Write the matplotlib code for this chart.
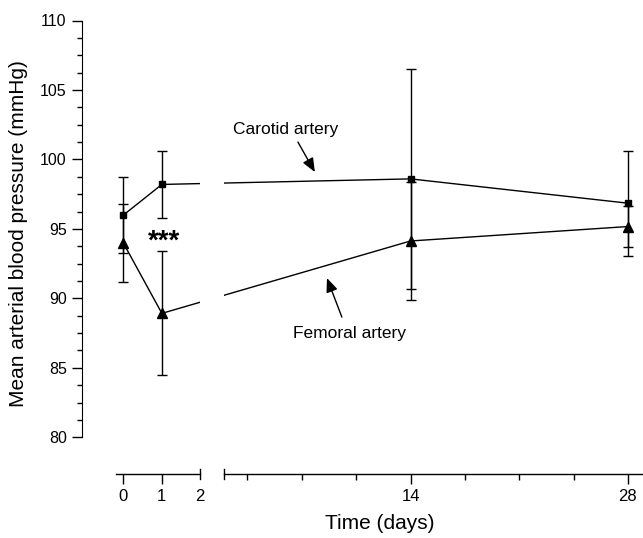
import numpy as np
import matplotlib
matplotlib.use('Agg')
import matplotlib.pyplot as plt
from matplotlib.ticker import MultipleLocator

plt.rcParams['font.family'] = ['Liberation Sans', 'DejaVu Sans']

# data
days = [0, 1, 14, 28]
carotid = [96.0, 98.2, 98.6, 96.85]
carotid_err = [2.73, 2.41, 7.92, 3.77]
femoral = [93.97, 88.92, 94.13, 95.17]
femoral_err = [2.8, 4.46, 4.26, 1.48]

x_major = [0, 1, 2, 14, 28]
x_minor = [3.5, 7, 10.5, 17.5, 21, 24.5]
y_major = [80, 85, 90, 95, 100, 105, 110]

# broken x axis: 0-2 stretched, then a gap, then 2-28 compressed
knots_d = [-10, 2, 2.001, 60]
knots_u = [-384.0, 76.8, 100.7, 100.7 + (60 - 2.001) * 15.53]
def fwd(d):
    return np.interp(d, knots_d, knots_u)
def inv(u):
    return np.interp(u, knots_u, knots_d)

fig = plt.figure(figsize=(6.43, 5.38), dpi=100)
ax = fig.add_axes([82/643, 100.7/538, 561/643, 416.8/538])
ax.set_xscale('function', functions=(fwd, inv))
ax.set_xlim(-1.08, 28.97)
ax.set_ylim(80, 110)

ax.errorbar(days, carotid, yerr=carotid_err, color='black', marker='s', ms=4.2,
            lw=1, elinewidth=1, capsize=3.3, capthick=1)
ax.errorbar(days, femoral, yerr=femoral_err, color='black', marker='^', ms=6.5,
            lw=1, elinewidth=1, capsize=3.3, capthick=1)
# cut the lines where the axis is broken
ax.axvspan(2, 2.001, color='white', lw=0, zorder=5)

# significance mark
ax.text(1.05, 94.1, '***', ha='center', va='center', fontsize=20, fontweight='bold')

# labels with arrows
ax.text(2.56, 102.19, 'Carotid artery', ha='left', va='center', fontsize=12.5)
ax.annotate('', xy=(7.84, 99.09), xytext=(6.75, 101.25),
            arrowprops=dict(arrowstyle='-|>,head_length=0.6,head_width=0.25',
                            color='black', lw=1, mutation_scale=14, shrinkA=0, shrinkB=0))
ax.text(6.43, 87.5, 'Femoral artery', ha='left', va='center', fontsize=12.5)
ax.annotate('', xy=(8.62, 91.46), xytext=(9.58, 88.65),
            arrowprops=dict(arrowstyle='-|>,head_length=0.6,head_width=0.25',
                            color='black', lw=1, mutation_scale=14, shrinkA=0, shrinkB=0))

# spines
ybar = -37 / 416.8
ax.spines['top'].set_visible(False)
ax.spines['right'].set_visible(False)
ax.spines['left'].set_bounds(80, 110)
ax.spines['bottom'].set_position(('axes', ybar))
ax.spines['bottom'].set_visible(False)

trans = ax.get_xaxis_transform()
cap = 5 / 416.8
ax.plot([-0.2, 2], [ybar, ybar], color='black', lw=1, transform=trans, clip_on=False)
ax.plot([2.001, 28.97], [ybar, ybar], color='black', lw=1, transform=trans, clip_on=False)
for xc in [2, 2.001]:
    ax.plot([xc, xc], [ybar - cap, ybar + cap], color='black', lw=1,
            transform=trans, clip_on=False)

# ticks
ax.set_yticks(y_major)
ax.yaxis.set_minor_locator(MultipleLocator(1.25))
ax.set_xticks(x_major)
ax.set_xticklabels([str(d) for d in x_major])
ax.set_xticks(x_minor, minor=True)
ax.tick_params(axis='y', which='major', direction='out', length=7, width=1, labelsize=11.5, pad=4)
ax.tick_params(axis='y', which='minor', direction='out', length=3.6, width=1)
ax.tick_params(axis='x', which='major', direction='out', length=7.5, width=1, labelsize=12, pad=3)
ax.tick_params(axis='x', which='minor', direction='out', length=4.3, width=1)
ax.xaxis.get_major_ticks()[2].tick1line.set_visible(False)

ax.set_xlabel('Time (days)', fontsize=15)
ax.xaxis.set_label_coords(0.531, -0.183)
ax.set_ylabel('Mean arterial blood pressure (mmHg)', fontsize=15)
ax.yaxis.set_label_coords(-0.0963, 0.49)

fig.savefig('out.png', dpi=100)
